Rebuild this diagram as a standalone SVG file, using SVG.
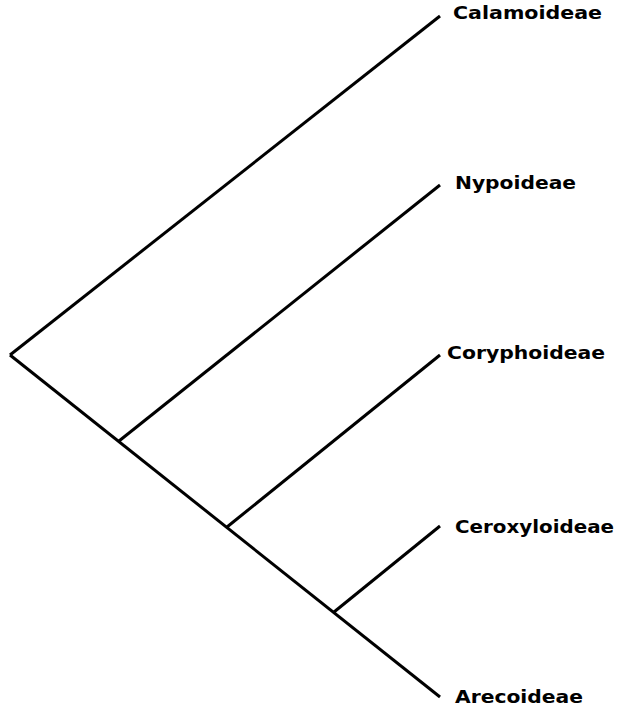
<svg xmlns="http://www.w3.org/2000/svg" width="619" height="706" viewBox="0 0 619 706">
<style>
.e{stroke:#000;stroke-width:3;fill:none;stroke-linecap:butt}
.t{font-family:"DejaVu Sans","Liberation Sans",sans-serif;font-weight:bold;font-size:17px;fill:#000}
</style>
<rect width="619" height="706" fill="#fff"/>
<g id="connectors">
<line class="e" x1="10" y1="355" x2="440" y2="16"/>
<line class="e" x1="10" y1="355" x2="440" y2="697"/>
<line class="e" x1="119" y1="441" x2="440" y2="185"/>
<line class="e" x1="227" y1="527" x2="440" y2="355"/>
<line class="e" x1="334" y1="612" x2="440" y2="526"/>
</g>
<g id="Calamoideae"><text class="t" x="453" y="19" textLength="149" lengthAdjust="spacingAndGlyphs">Calamoideae</text></g>
<g id="Nypoideae"><text class="t" x="455" y="189" textLength="121" lengthAdjust="spacingAndGlyphs">Nypoideae</text></g>
<g id="Coryphoideae"><text class="t" x="447" y="359" textLength="158" lengthAdjust="spacingAndGlyphs">Coryphoideae</text></g>
<g id="Ceroxyloideae"><text class="t" x="455" y="533" textLength="159" lengthAdjust="spacingAndGlyphs">Ceroxyloideae</text></g>
<g id="Arecoideae"><text class="t" x="455" y="703" textLength="128" lengthAdjust="spacingAndGlyphs">Arecoideae</text></g>
</svg>
